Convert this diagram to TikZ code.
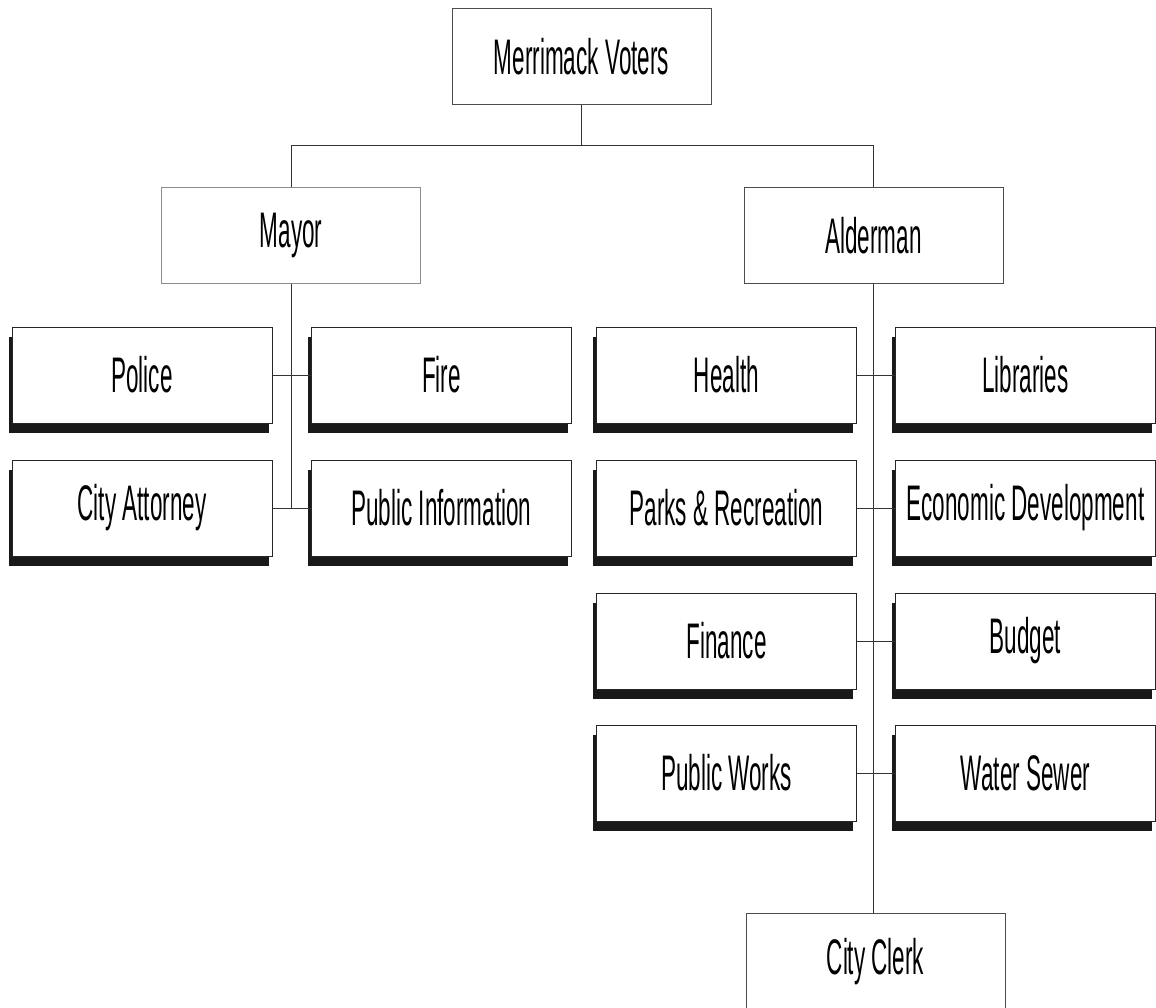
\documentclass[tikz,border=0pt]{standalone}
\usepackage{fontspec}
\setmainfont[FakeStretch=0.45]{Liberation Sans}
\usepackage{tikz}
\usetikzlibrary{shadows}

\begin{document}
\begin{tikzpicture}
    [
    x=1pt,y=1pt,
    plain/.style = {draw=black!70,line width=1pt,fill=white,minimum width=259pt,minimum height=96pt,inner sep=0pt,font=\fontsize{50}{60}\selectfont},
    dept/.style = {plain,draw=black!85,minimum width=260pt,drop shadow={shadow xshift=-3.5pt,shadow yshift=-9.5pt,fill=black!90,opacity=1}},
    link/.style = {draw=black!80,line width=1pt}
    ]
\useasboundingbox (0,0) rectangle (1156,-1008);
\node[plain] (voters) at (581.5,-56.5) {Merrimack Voters};
\node[plain,draw=black!45] (mayor) at (291,-235.5) {Mayor};
\node[plain] (alderman) at (873.5,-236) {Alderman};
\node[dept] (police) at (142,-375) {Police};
\node[dept] (fire) at (441.5,-375) {Fire};
\node[dept] (attorney) at (142,-508) {City Attorney};
\node[dept] (pubinfo) at (441.5,-508) {Public Information};
\node[dept] (health) at (726.5,-375) {Health};
\node[dept] (libraries) at (1025.5,-375) {Libraries};
\node[dept] (parks) at (726.5,-508) {Parks \& Recreation};
\node[dept] (econdev) at (1025.5,-508) {Economic Development};
\node[dept] (finance) at (726.5,-641) {Finance};
\node[dept] (budget) at (1025.5,-641) {Budget};
\node[dept] (pubworks) at (726.5,-773) {Public Works};
\node[dept] (water) at (1025.5,-773) {Water Sewer};
\node[plain] (clerk) at (875.5,-961.5) {City Clerk};
\coordinate (split) at (581.5,-146);

\draw[link] (voters.south) -- (split) -| (mayor.north);
\draw[link] (split) -| (alderman.north);
\draw[link] (mayor.south) -- (mayor.south |- attorney.east);
\draw[link] (police.east) -- (fire.west);
\draw[link] (attorney.east) -- (pubinfo.west);
\draw[link] (alderman.south) -- (alderman.south |- clerk.north);
\draw[link] (health.east) -- (libraries.west);
\draw[link] (parks.east) -- (econdev.west);
\draw[link] (finance.east) -- (budget.west);
\draw[link] (pubworks.east) -- (water.west);
\end{tikzpicture}
\end{document}
